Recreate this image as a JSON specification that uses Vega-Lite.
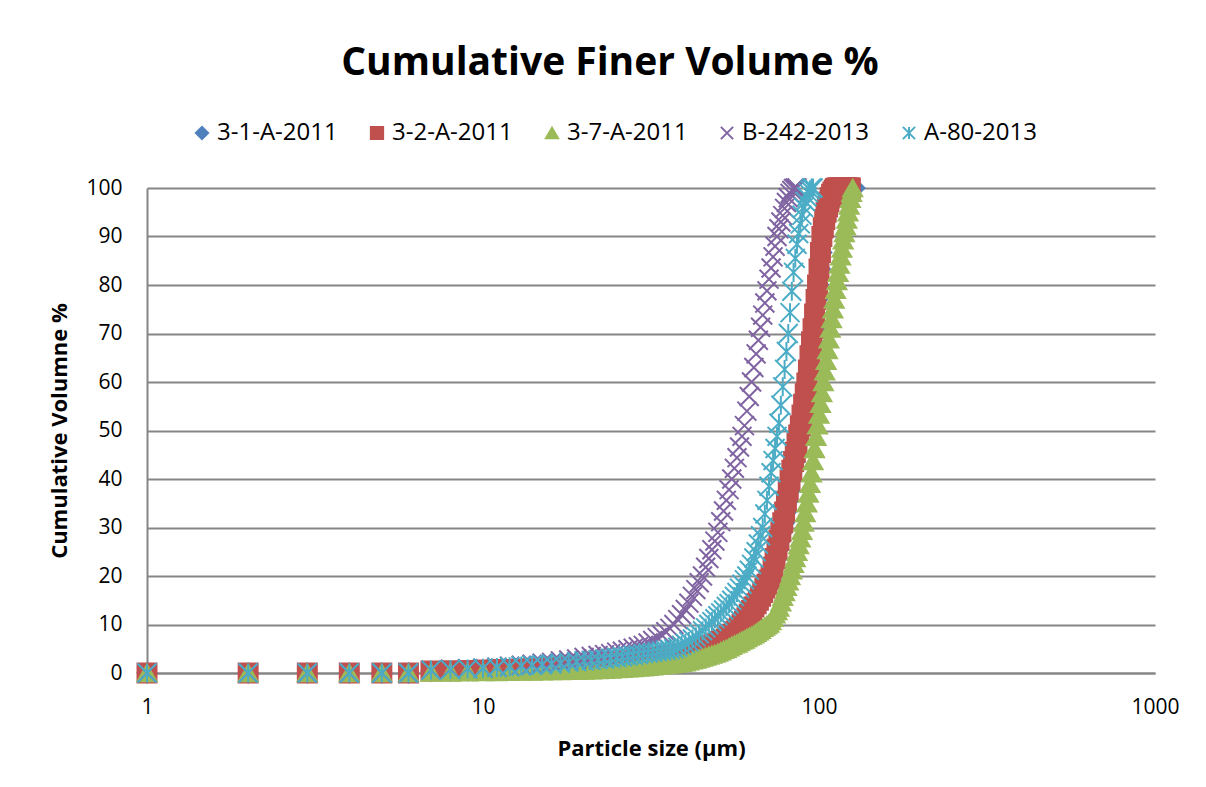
{
"$schema": "https://vega.github.io/schema/vega-lite/v6.json",
"width": 1008, "height": 485,
"autosize": {"type": "none"},
"padding": {"left": 147, "top": 188, "right": 51, "bottom": 114},
"background": "white",
"title": {"text": "Cumulative Finer Volume %", "font": "Open Sans", "fontSize": 39, "fontWeight": "bold", "color": "black", "anchor": "middle", "frame": "group", "dx": -41, "offset": 38},
"config": {
  "font": "Open Sans",
  "view": {"stroke": null},
  "legend": {"orient": "none", "legendX": 43, "legendY": -67, "direction": "horizontal", "labelFont": "Open Sans", "labelFontSize": 24, "labelColor": "black", "symbolSize": 150, "symbolStrokeWidth": 2, "columnPadding": 27, "labelOffset": 3, "padding": 0, "symbolOpacity": 1}
},
"data": {"values": [
{"x":1,"3-1-A-2011":0,"3-2-A-2011":0,"3-7-A-2011":0,"B-242-2013":0,"A-80-2013":0},
{"x":2,"3-1-A-2011":0,"3-2-A-2011":0,"3-7-A-2011":0,"B-242-2013":0,"A-80-2013":0},
{"x":3,"3-1-A-2011":0,"3-2-A-2011":0,"3-7-A-2011":0,"B-242-2013":0,"A-80-2013":0},
{"x":4,"3-1-A-2011":0,"3-2-A-2011":0,"3-7-A-2011":0,"B-242-2013":0,"A-80-2013":0},
{"x":5,"3-1-A-2011":0,"3-2-A-2011":0,"3-7-A-2011":0,"B-242-2013":0,"A-80-2013":0},
{"x":6,"3-1-A-2011":0,"3-2-A-2011":0,"3-7-A-2011":0,"B-242-2013":0,"A-80-2013":0},
{"x":7,"3-1-A-2011":0.35,"3-2-A-2011":0.4,"3-7-A-2011":0.1,"B-242-2013":0.6,"A-80-2013":0.6},
{"x":8,"3-1-A-2011":0.4,"3-2-A-2011":0.45,"3-7-A-2011":0.12,"B-242-2013":0.8,"A-80-2013":0.7},
{"x":9,"3-1-A-2011":0.45,"3-2-A-2011":0.5,"3-7-A-2011":0.15,"B-242-2013":0.9,"A-80-2013":0.85},
{"x":10,"3-1-A-2011":0.55,"3-2-A-2011":0.6,"3-7-A-2011":0.2,"B-242-2013":1.0,"A-80-2013":1.0},
{"x":11,"3-1-A-2011":0.6,"3-2-A-2011":0.7,"3-7-A-2011":0.22,"B-242-2013":1.2,"A-80-2013":1.15},
{"x":12,"3-1-A-2011":0.7,"3-2-A-2011":0.75,"3-7-A-2011":0.25,"B-242-2013":1.4,"A-80-2013":1.3},
{"x":13,"3-1-A-2011":0.75,"3-2-A-2011":0.85,"3-7-A-2011":0.28,"B-242-2013":1.6,"A-80-2013":1.45},
{"x":14,"3-1-A-2011":0.85,"3-2-A-2011":0.9,"3-7-A-2011":0.32,"B-242-2013":1.8,"A-80-2013":1.6},
{"x":15,"3-1-A-2011":0.9,"3-2-A-2011":1.0,"3-7-A-2011":0.35,"B-242-2013":2.0,"A-80-2013":1.7},
{"x":16,"3-1-A-2011":1.0,"3-2-A-2011":1.1,"3-7-A-2011":0.38,"B-242-2013":2.2,"A-80-2013":1.85},
{"x":17,"3-1-A-2011":1.1,"3-2-A-2011":1.2,"3-7-A-2011":0.41,"B-242-2013":2.5,"A-80-2013":2.0},
{"x":18,"3-1-A-2011":1.2,"3-2-A-2011":1.3,"3-7-A-2011":0.44,"B-242-2013":2.7,"A-80-2013":2.2},
{"x":19,"3-1-A-2011":1.3,"3-2-A-2011":1.4,"3-7-A-2011":0.47,"B-242-2013":2.9,"A-80-2013":2.35},
{"x":20,"3-1-A-2011":1.4,"3-2-A-2011":1.5,"3-7-A-2011":0.5,"B-242-2013":3.2,"A-80-2013":2.5},
{"x":21,"3-1-A-2011":1.5,"3-2-A-2011":1.6,"3-7-A-2011":0.56,"B-242-2013":3.4,"A-80-2013":2.6},
{"x":22,"3-1-A-2011":1.6,"3-2-A-2011":1.7,"3-7-A-2011":0.62,"B-242-2013":3.6,"A-80-2013":2.75},
{"x":23,"3-1-A-2011":1.7,"3-2-A-2011":1.85,"3-7-A-2011":0.68,"B-242-2013":3.8,"A-80-2013":2.9},
{"x":24,"3-1-A-2011":1.85,"3-2-A-2011":1.95,"3-7-A-2011":0.74,"B-242-2013":4.0,"A-80-2013":3.05},
{"x":25,"3-1-A-2011":1.95,"3-2-A-2011":2.1,"3-7-A-2011":0.8,"B-242-2013":4.3,"A-80-2013":3.2},
{"x":26,"3-1-A-2011":2.1,"3-2-A-2011":2.2,"3-7-A-2011":0.88,"B-242-2013":4.5,"A-80-2013":3.35},
{"x":27,"3-1-A-2011":2.2,"3-2-A-2011":2.35,"3-7-A-2011":0.96,"B-242-2013":4.8,"A-80-2013":3.5},
{"x":28,"3-1-A-2011":2.35,"3-2-A-2011":2.5,"3-7-A-2011":1.04,"B-242-2013":5.1,"A-80-2013":3.65},
{"x":29,"3-1-A-2011":2.5,"3-2-A-2011":2.65,"3-7-A-2011":1.12,"B-242-2013":5.4,"A-80-2013":3.8},
{"x":30,"3-1-A-2011":2.65,"3-2-A-2011":2.8,"3-7-A-2011":1.2,"B-242-2013":5.7,"A-80-2013":4.0},
{"x":31,"3-1-A-2011":2.8,"3-2-A-2011":2.9,"3-7-A-2011":1.3,"B-242-2013":6.2,"A-80-2013":4.1},
{"x":32,"3-1-A-2011":2.9,"3-2-A-2011":3.0,"3-7-A-2011":1.4,"B-242-2013":6.7,"A-80-2013":4.25},
{"x":33,"3-1-A-2011":3.0,"3-2-A-2011":3.1,"3-7-A-2011":1.5,"B-242-2013":7.3,"A-80-2013":4.4},
{"x":34,"3-1-A-2011":3.1,"3-2-A-2011":3.25,"3-7-A-2011":1.6,"B-242-2013":7.9,"A-80-2013":4.55},
{"x":35,"3-1-A-2011":3.25,"3-2-A-2011":3.4,"3-7-A-2011":1.7,"B-242-2013":8.5,"A-80-2013":4.7},
{"x":36,"3-1-A-2011":3.4,"3-2-A-2011":3.5,"3-7-A-2011":1.8,"B-242-2013":9.2,"A-80-2013":4.85},
{"x":37,"3-1-A-2011":3.5,"3-2-A-2011":3.6,"3-7-A-2011":1.9,"B-242-2013":10.0,"A-80-2013":5.0},
{"x":38,"3-1-A-2011":3.6,"3-2-A-2011":3.75,"3-7-A-2011":2.0,"B-242-2013":11.0,"A-80-2013":5.3},
{"x":39,"3-1-A-2011":3.75,"3-2-A-2011":3.9,"3-7-A-2011":2.1,"B-242-2013":12.0,"A-80-2013":5.7},
{"x":40,"3-1-A-2011":3.9,"3-2-A-2011":4.0,"3-7-A-2011":2.2,"B-242-2013":13.1,"A-80-2013":6.1},
{"x":41,"3-1-A-2011":4.0,"3-2-A-2011":4.2,"3-7-A-2011":2.4,"B-242-2013":14.4,"A-80-2013":6.5},
{"x":42,"3-1-A-2011":4.2,"3-2-A-2011":4.4,"3-7-A-2011":2.6,"B-242-2013":15.8,"A-80-2013":7.0},
{"x":43,"3-1-A-2011":4.4,"3-2-A-2011":4.6,"3-7-A-2011":2.8,"B-242-2013":17.2,"A-80-2013":7.5},
{"x":44,"3-1-A-2011":4.6,"3-2-A-2011":4.8,"3-7-A-2011":3.0,"B-242-2013":18.6,"A-80-2013":8.1},
{"x":45,"3-1-A-2011":4.8,"3-2-A-2011":5.0,"3-7-A-2011":3.2,"B-242-2013":20.0,"A-80-2013":8.7},
{"x":46,"3-1-A-2011":5.0,"3-2-A-2011":5.2,"3-7-A-2011":3.4,"B-242-2013":21.8,"A-80-2013":9.3},
{"x":47,"3-1-A-2011":5.2,"3-2-A-2011":5.5,"3-7-A-2011":3.6,"B-242-2013":23.6,"A-80-2013":10.0},
{"x":48,"3-1-A-2011":5.5,"3-2-A-2011":5.7,"3-7-A-2011":3.8,"B-242-2013":25.4,"A-80-2013":10.6},
{"x":49,"3-1-A-2011":5.7,"3-2-A-2011":6.0,"3-7-A-2011":4.0,"B-242-2013":27.2,"A-80-2013":11.2},
{"x":50,"3-1-A-2011":6.0,"3-2-A-2011":6.2,"3-7-A-2011":4.2,"B-242-2013":29.0,"A-80-2013":11.8},
{"x":51,"3-1-A-2011":6.2,"3-2-A-2011":6.5,"3-7-A-2011":4.5,"B-242-2013":31.2,"A-80-2013":12.4},
{"x":52,"3-1-A-2011":6.5,"3-2-A-2011":6.7,"3-7-A-2011":4.8,"B-242-2013":33.4,"A-80-2013":13.0},
{"x":53,"3-1-A-2011":6.7,"3-2-A-2011":7.0,"3-7-A-2011":5.0,"B-242-2013":35.6,"A-80-2013":13.7},
{"x":54,"3-1-A-2011":7.0,"3-2-A-2011":7.5,"3-7-A-2011":5.3,"B-242-2013":37.8,"A-80-2013":14.3},
{"x":55,"3-1-A-2011":7.5,"3-2-A-2011":8.0,"3-7-A-2011":5.6,"B-242-2013":40.0,"A-80-2013":15.0},
{"x":56,"3-1-A-2011":8.0,"3-2-A-2011":8.5,"3-7-A-2011":5.9,"B-242-2013":42.2,"A-80-2013":15.8},
{"x":57,"3-1-A-2011":8.5,"3-2-A-2011":9.0,"3-7-A-2011":6.1,"B-242-2013":44.4,"A-80-2013":16.6},
{"x":58,"3-1-A-2011":9.0,"3-2-A-2011":9.5,"3-7-A-2011":6.4,"B-242-2013":46.6,"A-80-2013":17.5},
{"x":59,"3-1-A-2011":9.5,"3-2-A-2011":10.0,"3-7-A-2011":6.7,"B-242-2013":48.8,"A-80-2013":18.3},
{"x":60,"3-1-A-2011":10.0,"3-2-A-2011":10.7,"3-7-A-2011":6.9,"B-242-2013":51.0,"A-80-2013":19.2},
{"x":61,"3-1-A-2011":10.7,"3-2-A-2011":11.4,"3-7-A-2011":7.2,"B-242-2013":54.0,"A-80-2013":20.0},
{"x":62,"3-1-A-2011":11.4,"3-2-A-2011":12.1,"3-7-A-2011":7.5,"B-242-2013":57.0,"A-80-2013":21.2},
{"x":63,"3-1-A-2011":12.1,"3-2-A-2011":12.9,"3-7-A-2011":7.7,"B-242-2013":60.0,"A-80-2013":22.4},
{"x":64,"3-1-A-2011":12.9,"3-2-A-2011":13.6,"3-7-A-2011":8.0,"B-242-2013":63.0,"A-80-2013":23.7},
{"x":65,"3-1-A-2011":13.6,"3-2-A-2011":14.3,"3-7-A-2011":8.3,"B-242-2013":65.8,"A-80-2013":25.0},
{"x":66,"3-1-A-2011":14.3,"3-2-A-2011":15.0,"3-7-A-2011":8.6,"B-242-2013":68.6,"A-80-2013":26.6},
{"x":67,"3-1-A-2011":15.0,"3-2-A-2011":15.8,"3-7-A-2011":8.9,"B-242-2013":71.3,"A-80-2013":28.3},
{"x":68,"3-1-A-2011":15.8,"3-2-A-2011":16.6,"3-7-A-2011":9.3,"B-242-2013":73.8,"A-80-2013":30.0},
{"x":69,"3-1-A-2011":16.6,"3-2-A-2011":17.5,"3-7-A-2011":9.6,"B-242-2013":76.3,"A-80-2013":32.8},
{"x":70,"3-1-A-2011":17.5,"3-2-A-2011":18.3,"3-7-A-2011":9.9,"B-242-2013":78.8,"A-80-2013":35.6},
{"x":71,"3-1-A-2011":18.3,"3-2-A-2011":19.2,"3-7-A-2011":10.2,"B-242-2013":81.2,"A-80-2013":38.5},
{"x":72,"3-1-A-2011":19.2,"3-2-A-2011":20.0,"3-7-A-2011":10.7,"B-242-2013":83.5,"A-80-2013":41.3},
{"x":73,"3-1-A-2011":20.0,"3-2-A-2011":21.8,"3-7-A-2011":11.4,"B-242-2013":85.8,"A-80-2013":43.8},
{"x":74,"3-1-A-2011":21.8,"3-2-A-2011":23.6,"3-7-A-2011":12.1,"B-242-2013":88.0,"A-80-2013":46.3},
{"x":75,"3-1-A-2011":23.6,"3-2-A-2011":25.5,"3-7-A-2011":12.8,"B-242-2013":90.0,"A-80-2013":48.8},
{"x":76,"3-1-A-2011":25.5,"3-2-A-2011":27.3,"3-7-A-2011":13.5,"B-242-2013":91.6,"A-80-2013":51.5},
{"x":77,"3-1-A-2011":27.3,"3-2-A-2011":29.1,"3-7-A-2011":14.6,"B-242-2013":93.0,"A-80-2013":55.2},
{"x":78,"3-1-A-2011":29.1,"3-2-A-2011":31.0,"3-7-A-2011":15.7,"B-242-2013":94.3,"A-80-2013":59.0},
{"x":79,"3-1-A-2011":31.0,"3-2-A-2011":33.2,"3-7-A-2011":16.7,"B-242-2013":95.8,"A-80-2013":62.6},
{"x":80,"3-1-A-2011":33.2,"3-2-A-2011":35.4,"3-7-A-2011":17.8,"B-242-2013":97.0,"A-80-2013":66.3},
{"x":81,"3-1-A-2011":35.4,"3-2-A-2011":37.6,"3-7-A-2011":18.9,"B-242-2013":98.0,"A-80-2013":70.0},
{"x":82,"3-1-A-2011":37.6,"3-2-A-2011":39.8,"3-7-A-2011":20.0,"B-242-2013":98.9,"A-80-2013":74.3},
{"x":83,"3-1-A-2011":39.8,"3-2-A-2011":41.8,"3-7-A-2011":21.2,"B-242-2013":99.5,"A-80-2013":78.7},
{"x":84,"3-1-A-2011":41.8,"3-2-A-2011":43.6,"3-7-A-2011":22.5,"B-242-2013":99.9,"A-80-2013":82.6},
{"x":85,"3-1-A-2011":43.6,"3-2-A-2011":45.5,"3-7-A-2011":23.7,"B-242-2013":100,"A-80-2013":85.5},
{"x":86,"3-1-A-2011":45.5,"3-2-A-2011":47.3,"3-7-A-2011":25.0,"B-242-2013":100,"A-80-2013":88.4},
{"x":87,"3-1-A-2011":47.3,"3-2-A-2011":49.1,"3-7-A-2011":26.4,"A-80-2013":90.6},
{"x":88,"3-1-A-2011":49.1,"3-2-A-2011":51.0,"3-7-A-2011":27.8,"A-80-2013":92.6},
{"x":89,"3-1-A-2011":51.0,"3-2-A-2011":53.2,"3-7-A-2011":29.3,"A-80-2013":94.4},
{"x":90,"3-1-A-2011":53.2,"3-2-A-2011":55.4,"3-7-A-2011":31.0,"A-80-2013":96.0},
{"x":91,"3-1-A-2011":55.4,"3-2-A-2011":57.6,"3-7-A-2011":33.0,"A-80-2013":97.2},
{"x":92,"3-1-A-2011":57.6,"3-2-A-2011":59.8,"3-7-A-2011":35.0,"A-80-2013":98.2},
{"x":93,"3-1-A-2011":59.8,"3-2-A-2011":62.5,"3-7-A-2011":37.0,"A-80-2013":99.0},
{"x":94,"3-1-A-2011":62.5,"3-2-A-2011":65.4,"3-7-A-2011":39.0,"A-80-2013":99.6},
{"x":95,"3-1-A-2011":65.4,"3-2-A-2011":68.3,"3-7-A-2011":41.2,"A-80-2013":100},
{"x":96,"3-1-A-2011":68.3,"3-2-A-2011":71.0,"3-7-A-2011":43.7,"A-80-2013":100},
{"x":97,"3-1-A-2011":71.0,"3-2-A-2011":74.0,"3-7-A-2011":46.2},
{"x":98,"3-1-A-2011":74.0,"3-2-A-2011":77.0,"3-7-A-2011":48.7},
{"x":99,"3-1-A-2011":77.0,"3-2-A-2011":80.0,"3-7-A-2011":51.1},
{"x":100,"3-1-A-2011":80.0,"3-2-A-2011":83.3,"3-7-A-2011":53.3},
{"x":101,"3-1-A-2011":83.3,"3-2-A-2011":86.7,"3-7-A-2011":55.5},
{"x":102,"3-1-A-2011":86.7,"3-2-A-2011":90.0,"3-7-A-2011":57.7},
{"x":103,"3-1-A-2011":90.0,"3-2-A-2011":91.8,"3-7-A-2011":60.0},
{"x":104,"3-1-A-2011":91.8,"3-2-A-2011":93.5,"3-7-A-2011":62.2},
{"x":105,"3-1-A-2011":93.5,"3-2-A-2011":95.0,"3-7-A-2011":64.4},
{"x":106,"3-1-A-2011":95.0,"3-2-A-2011":96.1,"3-7-A-2011":66.6},
{"x":107,"3-1-A-2011":96.1,"3-2-A-2011":97.1,"3-7-A-2011":68.8},
{"x":108,"3-1-A-2011":97.1,"3-2-A-2011":98.0,"3-7-A-2011":71.0},
{"x":109,"3-1-A-2011":98.0,"3-2-A-2011":98.7,"3-7-A-2011":73.0},
{"x":110,"3-1-A-2011":98.7,"3-2-A-2011":99.2,"3-7-A-2011":75.0},
{"x":111,"3-1-A-2011":99.2,"3-2-A-2011":99.6,"3-7-A-2011":77.0},
{"x":112,"3-1-A-2011":99.6,"3-2-A-2011":99.9,"3-7-A-2011":79.0},
{"x":113,"3-1-A-2011":99.9,"3-2-A-2011":100,"3-7-A-2011":80.8},
{"x":114,"3-1-A-2011":100,"3-2-A-2011":100,"3-7-A-2011":82.5},
{"x":115,"3-1-A-2011":100,"3-2-A-2011":100,"3-7-A-2011":84.2},
{"x":116,"3-1-A-2011":100,"3-2-A-2011":100,"3-7-A-2011":85.9},
{"x":117,"3-1-A-2011":100,"3-2-A-2011":100,"3-7-A-2011":87.5},
{"x":118,"3-1-A-2011":100,"3-2-A-2011":100,"3-7-A-2011":89.2},
{"x":119,"3-1-A-2011":100,"3-2-A-2011":100,"3-7-A-2011":90.7},
{"x":120,"3-1-A-2011":100,"3-2-A-2011":100,"3-7-A-2011":92.1},
{"x":121,"3-1-A-2011":100,"3-2-A-2011":100,"3-7-A-2011":93.5},
{"x":122,"3-1-A-2011":100,"3-2-A-2011":100,"3-7-A-2011":95.0},
{"x":123,"3-1-A-2011":100,"3-2-A-2011":100,"3-7-A-2011":96.4},
{"x":124,"3-1-A-2011":100,"3-2-A-2011":100,"3-7-A-2011":97.8},
{"x":125,"3-1-A-2011":100,"3-7-A-2011":99.0},
{"x":126,"3-1-A-2011":100,"3-7-A-2011":100},
{"x":127,"3-1-A-2011":100},
{"x":128,"3-1-A-2011":100}
]},
"encoding": {
  "x": {"field": "x", "type": "quantitative", "scale": {"type": "log", "domain": [1, 1000]},
    "axis": {"values": [1, 10, 100, 1000], "format": "d", "title": "Particle size (µm)", "grid": false, "domain": true, "domainColor": "#868686", "domainWidth": 2, "ticks": false, "labelFont": "Open Sans", "labelFontSize": 21, "labelColor": "black", "labelPadding": 23, "labelFlush": false, "titleFont": "Open Sans", "titleFontSize": 22, "titleFontWeight": "bold", "titleColor": "black", "titlePadding": 21}},
  "y": {"field": "v", "type": "quantitative", "scale": {"domain": [0, 100], "nice": false},
    "axis": {"values": [0, 10, 20, 30, 40, 50, 60, 70, 80, 90, 100], "title": "Cumulative Volumne %", "grid": true, "gridColor": "#868686", "gridWidth": 2, "domain": true, "domainColor": "#868686", "domainWidth": 2, "ticks": false, "labelFont": "Open Sans", "labelFontSize": 21, "labelColor": "black", "labelPadding": 25, "titleFont": "Open Sans", "titleFontSize": 22, "titleFontWeight": "bold", "titleColor": "black", "titlePadding": 14}},
  "shape": {"field": "series", "type": "nominal", "scale": {"domain": ["3-1-A-2011", "3-2-A-2011", "3-7-A-2011", "B-242-2013", "A-80-2013"], "range": ["diamond", "square", "triangle-up", "M-1,-1L1,1M-1,1L1,-1", "M-1,-1L1,1M-1,1L1,-1M0,-1L0,1"]}, "legend": {"title": null}},
  "stroke": {"field": "series", "type": "nominal", "scale": {"domain": ["3-1-A-2011", "3-2-A-2011", "3-7-A-2011", "B-242-2013", "A-80-2013"], "range": ["#4F81BD", "#C0504D", "#9BBB59", "#8064A2", "#4BACC6"]}, "legend": {"title": null}},
  "fill": {"field": "series", "type": "nominal", "scale": {"domain": ["3-1-A-2011", "3-2-A-2011", "3-7-A-2011", "B-242-2013", "A-80-2013"], "range": ["#4F81BD", "#C0504D", "#9BBB59", "transparent", "transparent"]}, "legend": {"title": null}}
},
"layer": [
  {"transform": [{"fold": ["3-1-A-2011"], "as": ["series", "v"]}, {"filter": "isValid(datum.v)"}], "mark": {"type": "point", "opacity": 1, "strokeWidth": 2, "size": 360}},
  {"transform": [{"fold": ["3-2-A-2011"], "as": ["series", "v"]}, {"filter": "isValid(datum.v)"}], "mark": {"type": "point", "opacity": 1, "strokeWidth": 2, "size": 360}},
  {"transform": [{"fold": ["3-7-A-2011"], "as": ["series", "v"]}, {"filter": "isValid(datum.v)"}], "mark": {"type": "point", "opacity": 1, "strokeWidth": 2, "size": 360}},
  {"transform": [{"fold": ["B-242-2013"], "as": ["series", "v"]}, {"filter": "isValid(datum.v)"}], "mark": {"type": "point", "opacity": 1, "strokeWidth": 2, "size": 360}},
  {"transform": [{"fold": ["A-80-2013"], "as": ["series", "v"]}, {"filter": "isValid(datum.v)"}], "mark": {"type": "point", "opacity": 1, "strokeWidth": 2, "size": 360}}
]
}
